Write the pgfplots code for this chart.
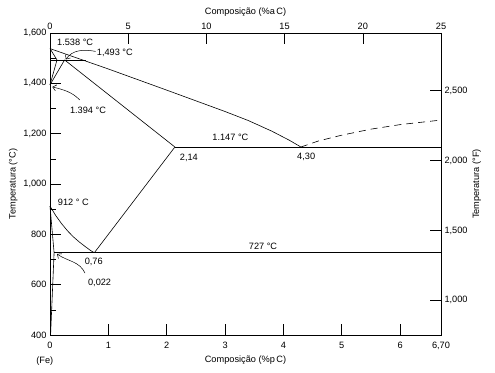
\documentclass[border=0pt]{standalone}
\usepackage{pgfplots}
\pgfplotsset{compat=1.18}
\usepackage{fontspec}
\setmainfont{Liberation Sans}
\usetikzlibrary{arrows.meta}
\begin{document}
\begin{tikzpicture}[font=\fontsize{9.2}{11}\selectfont]
\pgfplotsset{
  every axis/.append style={
    scale only axis, width=391pt, height=302pt,
    /pgf/number format/assume math mode=true,
    tick align=inside,
    major tick length=11pt, minor tick length=6pt,
    every tick/.style={black, line width=0.6pt},
    axis line style={line width=0.7pt},
    tick label style={font=\fontsize{9.2}{11}\selectfont},
    label style={font=\fontsize{9.2}{11}\selectfont},
  }
}
\begin{axis}[
  xmin=0, xmax=6.7, ymin=400, ymax=1600,
  xtick pos=bottom, ytick pos=left,
  xtick={0,1,2,3,4,5,6,6.7},
  xticklabels={0,1,2,3,4,5,6,{6,70}},
  ytick={400,600,800,1000,1200,1400,1600},
  yticklabels={400,600,800,{1,000},{1,200},{1,400},{1,600}},
  minor ytick={500,700,900,1100,1300,1500},
  xticklabel style={yshift=-4pt},
  xlabel={Composição (\%p\,C)},
  ylabel={Temperatura (°C)},
  xlabel style={yshift=1pt},
  ylabel style={yshift=-1pt},
  clip=false,
]
\coordinate (SW) at (rel axis cs:0,0);
\coordinate (NE) at (rel axis cs:1,1);
% liquidus
\addplot[black, line width=0.6pt] coordinates {(0,1538)(1,1457)(2,1373)(3,1288)(3.4,1252)(3.8,1210)(4.1,1174)(4.3,1147)};
% dashed liquidus (Fe3C side)
\addplot[black, line width=0.6pt, dash pattern=on 7pt off 5pt] coordinates {(4.3,1147)(4.6,1171)(5,1194)(5.5,1218)(6,1236)(6.7,1254)};
% solidus
\addplot[black, line width=0.6pt] coordinates {(0.25,1493)(2.14,1147)};
% eutectic
\addplot[black, line width=0.6pt] coordinates {(2.14,1147)(6.7,1147)};
% Acm
\addplot[black, line width=0.6pt] coordinates {(0.76,727)(2.14,1147)};
% A3
\addplot[black, line width=0.6pt] coordinates {(0,912)(0.1,874)(0.2,842)(0.3,814)(0.4,790)(0.5,770)(0.6,752)(0.7,735)(0.76,727)};
% eutectoid
\addplot[black, line width=0.6pt] coordinates {(0.07,727)(6.7,727)};
% alpha boundary
\addplot[black, line width=0.6pt] coordinates {(0,912)(0.07,727)(0.01,400)};
% delta region
\addplot[black, line width=0.6pt] coordinates {(0,1538)(0.12,1493)(0,1394)};
\addplot[black, line width=0.6pt] coordinates {(0.25,1493)(0,1394)};
\addplot[black, line width=0.6pt] coordinates {(0,1493)(0.62,1493)};
% labels
\node[anchor=west, inner sep=0pt] at (axis cs:0.12,1562) {1.538 °C};
\node[anchor=west, inner sep=0pt] at (axis cs:0.8,1520) {1,493 °C};
\node[anchor=west, inner sep=0pt] at (axis cs:0.34,1294) {1.394 °C};
\node[anchor=west, inner sep=0pt] at (axis cs:2.78,1187) {1.147 °C};
\node[inner sep=0pt] at (axis cs:2.38,1103) {2,14};
\node[inner sep=0pt] at (axis cs:4.39,1107) {4,30};
\node[inner sep=0pt] at (axis cs:3.65,754) {727 °C};
\node[inner sep=0pt] at (axis cs:0.75,690) {0,76};
\node[inner sep=0pt] at (axis cs:0.85,607) {0,022};
\node[inner sep=0pt] at (axis cs:0.40,928) {912 ° C};
\node[inner sep=0pt] at (axis cs:-0.09,297) {(Fe)};
% arrows
\draw[line width=0.5pt, -{Straight Barb[length=3.5pt,width=6pt]}] (axis cs:0.78,1527) to[out=170,in=55] (axis cs:0.27,1495);
\draw[line width=0.5pt, -{Straight Barb[length=3.5pt,width=6pt]}] (axis cs:0.51,1334) to[out=135,in=-15] (axis cs:0.04,1386);
\draw[line width=0.5pt, -{Straight Barb[length=3.5pt,width=6pt]}] (axis cs:0.60,646) to[out=115,in=-35] (axis cs:0.12,722);
\end{axis}
\begin{axis}[
  xmin=0, xmax=25, ymin=752, ymax=2912,
  axis x line*=top, axis y line*=right,
  xtick={0,5,10,15,20,25},
  xticklabels={0,5,10,15,20,25},
  ytick={1000,1500,2000,2500},
  yticklabels={{1,000},{1,500},{2,000},{2,500}},
  xlabel={Composição (\%a\,C)},
  ylabel={Temperatura (°F)},
  ylabel style={yshift=2pt},
]
\end{axis}
\pgfresetboundingbox
\path ([xshift=-50pt,yshift=-37pt]SW) rectangle ([xshift=54pt,yshift=33pt]NE);
\end{tikzpicture}
\end{document}
